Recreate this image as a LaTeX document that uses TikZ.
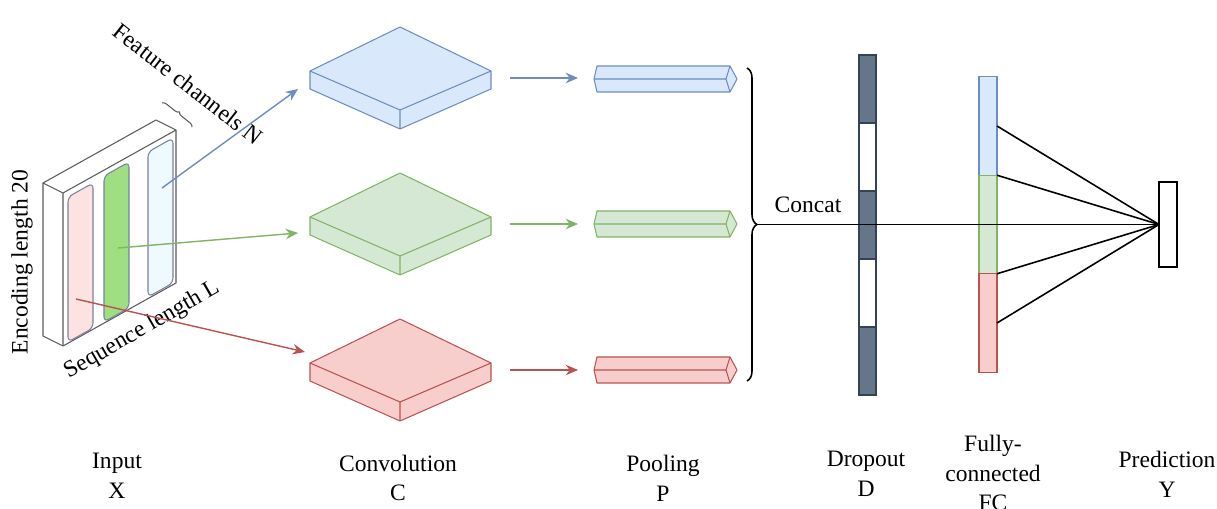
\documentclass[tikz,border=0pt]{standalone}
\usepackage{fontspec}
\setmainfont{Liberation Serif}
\usetikzlibrary{arrows.meta,decorations.pathreplacing}
\definecolor{blueFill}{RGB}{218, 232, 252}
\definecolor{blueLine}{RGB}{108, 142, 191}
\definecolor{greenFill}{RGB}{213, 232, 212}
\definecolor{greenLine}{RGB}{130, 179, 102}
\definecolor{redFill}{RGB}{248, 206, 204}
\definecolor{redLine}{RGB}{184, 84, 80}
\definecolor{dropFill}{RGB}{100, 118, 135}
\definecolor{dropLine}{RGB}{49, 67, 84}
\definecolor{pinkStrip}{RGB}{253, 226, 226}
\definecolor{greenStrip}{RGB}{160, 222, 130}
\definecolor{blueStrip}{RGB}{238, 250, 255}
\definecolor{stripLine}{RGB}{120, 130, 160}
\definecolor{slabLine}{RGB}{90, 90, 90}
\begin{document}
\begin{tikzpicture}[
    x=0.02cm, y=-0.02cm,
    lbl/.style={font=\fontsize{13.4}{17}\selectfont, align=center, inner sep=0pt},
    slab/.style={line width=0.6pt, line join=round},
    strip/.style={draw=stripLine, line width=0.6pt, rounded corners=3pt},
    arrow/.style={-{Stealth[length=7pt, width=6pt]}, line width=0.8pt},
    bar/.style={draw=dropLine, minimum width=0.34cm, minimum height=1.36cm, inner sep=0pt, outer sep=0pt, line width=0.6pt},
    fcbar/.style={minimum width=0.36cm, minimum height=1.97cm, inner sep=0pt, outer sep=0pt, line width=0.6pt},
    link/.style={line width=0.9pt}
]
    \useasboundingbox (0,0) rectangle (1217,509);

    % input block
    \draw[slab, draw=slabLine, fill=white] (43,183) -- (156,120) -- (176,130) -- (176,283) -- (63,346) -- (43,336) -- cycle;
    \draw[slab, draw=slabLine] (43,183) -- (63,193) -- (176,130) (63,193) -- (63,346);
    \draw[strip, fill=pinkStrip] (68,197) -- (93,183) -- (93,328) -- (68,342) -- cycle;
    \draw[strip, fill=greenStrip] (104,176) -- (129,162) -- (129,308) -- (104,322) -- cycle;
    \draw[strip, fill=blueStrip] (148,152) -- (173,138) -- (173,283) -- (148,297) -- cycle;
    \draw[slab, draw=slabLine, decorate, decoration={brace, amplitude=0.08cm}] (162,103) -- (192,127);
    \node[lbl, rotate=90] (enc) at (22,262) {Encoding length 20};
    \node[lbl, rotate=30] (seq) at (142,330) {Sequence length L};
    \node[lbl, rotate=-38] (feat) at (188,84) {Feature channels N};

    \coordinate (xb) at (162,188);
    \coordinate (xg) at (118,248);
    \coordinate (xr) at (76,299);
    \coordinate (cb) at (298,89);
    \coordinate (cg) at (298,233);
    \coordinate (cr) at (305,352);

    % convolution
    \draw[slab, draw=blueLine, fill=blueFill] (310,71) -- (400,27) -- (491,71) -- (491,89) -- (400,129) -- (310,89) -- cycle;
    \draw[slab, draw=blueLine] (310,71) -- (400,110) -- (491,71) (400,110) -- (400,129);
    \draw[slab, draw=greenLine, fill=greenFill] (310,217) -- (400,173) -- (491,217) -- (491,235) -- (400,275) -- (310,235) -- cycle;
    \draw[slab, draw=greenLine] (310,217) -- (400,256) -- (491,217) (400,256) -- (400,275);
    \draw[slab, draw=redLine, fill=redFill] (310,363) -- (400,319) -- (491,363) -- (491,381) -- (400,421) -- (310,381) -- cycle;
    \draw[slab, draw=redLine] (310,363) -- (400,402) -- (491,363) (400,402) -- (400,421);

    \draw[arrow, blueLine] (xb) -- (cb);
    \draw[arrow, greenLine] (xg) -- (cg);
    \draw[arrow, redLine] (xr) -- (cr);

    \coordinate (cbo) at (510,78);
    \coordinate (cgo) at (510,224);
    \coordinate (cro) at (510,370);
    \coordinate (pbi) at (578,78);
    \coordinate (pgi) at (578,224);
    \coordinate (pri) at (578,370);
    \draw[arrow, blueLine] (cbo) -- (pbi);
    \draw[arrow, greenLine] (cgo) -- (pgi);
    \draw[arrow, redLine] (cro) -- (pri);

    % pooling
    \draw[slab, draw=blueLine, fill=blueFill] (594,79) -- (597,66) -- (730,66) -- (737,79) -- (730,92) -- (597,92) -- cycle;
    \draw[slab, draw=blueLine] (594,79) -- (726,79) (730,66) -- (726,79) -- (730,92);
    \draw[slab, draw=greenLine, fill=greenFill] (594,224) -- (597,211) -- (730,211) -- (737,224) -- (730,237) -- (597,237) -- cycle;
    \draw[slab, draw=greenLine] (594,224) -- (726,224) (730,211) -- (726,224) -- (730,237);
    \draw[slab, draw=redLine, fill=redFill] (594,370) -- (597,357) -- (730,357) -- (737,370) -- (730,383) -- (597,383) -- cycle;
    \draw[slab, draw=redLine] (594,370) -- (726,370) (730,357) -- (726,370) -- (730,383);

    % concat, dropout, fully-connected
    \draw[link, decorate, decoration={brace, amplitude=0.2cm}] (747,68) -- (747,381);
    \coordinate (cat) at (757,224.5);
    \node[lbl] (concat) at (808,205) {Concat};

    \node[bar, fill=dropFill] (d1) at (867.5,89) {};
    \node[bar, fill=white] (d2) at (867.5,157) {};
    \node[bar, fill=dropFill] (d3) at (867.5,225) {};
    \node[bar, fill=white] (d4) at (867.5,293) {};
    \node[bar, fill=dropFill] (d5) at (867.5,361) {};

    \node[fcbar, draw=blueLine, fill=blueFill] (fc1) at (988,126) {};
    \node[fcbar, draw=greenLine, fill=greenFill] (fc2) at (988,224.5) {};
    \node[fcbar, draw=redLine, fill=redFill] (fc3) at (988,323) {};
    \node[fcbar, draw, fill=white, minimum height=1.7cm] (pred) at (1168,224.5) {};

    \draw[link] (cat) -- (pred.west);
    \draw[link] (fc1.east) -- (pred.west);
    \draw[link] (fc1.south east) -- (pred.west);
    \draw[link] (fc3.north east) -- (pred.west);
    \draw[link] (fc3.east) -- (pred.west);

    % labels
    \node[lbl] (inx) at (117,476) {Input\\X};
    \node[lbl] (conc) at (398,478) {Convolution\\C};
    \node[lbl] (poolp) at (663,478) {Pooling\\P};
    \node[lbl] (dropd) at (866,474) {Dropout\\D};
    \node[lbl] (fullfc) at (993,473) {Fully-\\connected\\FC};
    \node[lbl] (predy) at (1167,474) {Prediction\\Y};
\end{tikzpicture}
\end{document}
